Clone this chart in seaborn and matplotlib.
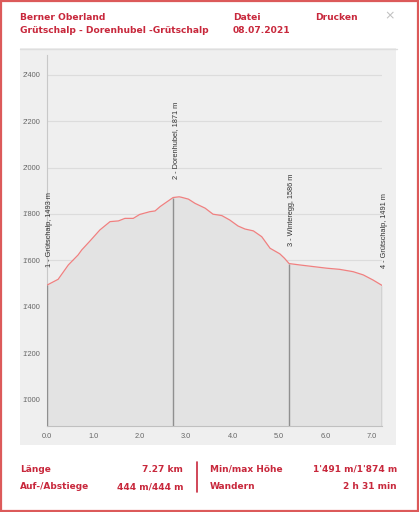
import numpy as np
import pandas as pd
import matplotlib
matplotlib.use("Agg")
import matplotlib.pyplot as plt
import seaborn as sns
from matplotlib.patches import Rectangle
from matplotlib.lines import Line2D

# ---------------- data ----------------
distance_km = [0.00, 0.24, 0.46, 0.67, 0.75, 0.93, 1.14, 1.36, 1.54, 1.68, 1.86,
               2.00, 2.22, 2.33, 2.44, 2.54, 2.72, 2.85, 2.90, 3.05, 3.19,
               3.41, 3.58, 3.77, 3.94, 4.12, 4.27, 4.45, 4.63, 4.81, 5.02,
               5.12, 5.22, 5.45, 5.74, 6.03, 6.31, 6.60, 6.82, 7.03, 7.23]
elevation_m = [1493, 1518, 1580, 1623, 1645, 1684, 1731, 1767, 1770, 1781, 1781,
               1798, 1810, 1813, 1832, 1846, 1871, 1874, 1872, 1864, 1846,
               1825, 1799, 1793, 1774, 1748, 1735, 1727, 1702, 1652, 1628,
               1609, 1586, 1580, 1573, 1566, 1561, 1551, 1537, 1515, 1491]

wp_km = [0.0, 2.72, 5.22, 7.23]
wp_elev = [1493, 1871, 1586, 1491]
wp_names = ["Grütschalp", "Dorenhubel", "Winteregg", "Grütschalp"]

y_ticks = [1000, 1200, 1400, 1600, 1800, 2000, 2200, 2400]
x_ticks = [0, 1, 2, 3, 4, 5, 6, 7]

header_title = "Berner Oberland"
header_route = "Grütschalp - Dorenhubel -Grütschalp"
header_file = "Datei"
header_date = "08.07.2021"
header_print = "Drucken"

footer_left_labels = ["Länge", "Auf-/Abstiege"]
footer_left_values = ["7.27 km", "444 m/444 m"]
footer_right_labels = ["Min/max Höhe", "Wandern"]
footer_right_values = ["1'491 m/1'874 m", "2 h 31 min"]

# ---------------- style ----------------
sns.set_style("white")
plt.rcParams['font.family'] = ['DejaVu Sans']

W, H = 419, 512
fig = plt.figure(figsize=(W / 100, H / 100), dpi=100)
fig.patch.set_facecolor("white")

def fx(x):
    return x / W

def fy(y):
    return 1 - y / H

RED = "#c8283c"
BORDER = "#dc5a5a"

# outer border
fig.add_artist(Rectangle((0.002, 0.002), 0.996, 0.996, transform=fig.transFigure,
                         fill=False, edgecolor=BORDER, linewidth=1.6, zorder=10))

# gray panel
fig.add_artist(Rectangle((fx(20), fy(445)), fx(396) - fx(20), fy(48) - fy(445),
                         transform=fig.transFigure, facecolor="#efefef",
                         edgecolor="none", zorder=0))
fig.add_artist(Line2D([fx(20), fx(397)], [fy(48.5), fy(48.5)], transform=fig.transFigure,
                      color="#dedede", linewidth=1.0, zorder=1))

# header texts
hfont = dict(fontsize=6.6, fontweight="bold", color=RED, family="DejaVu Sans")
fig.text(fx(20), fy(19.5), header_title, va="baseline", ha="left", **hfont)
fig.text(fx(20), fy(33), header_route, va="baseline", ha="left", **hfont)
fig.text(fx(233), fy(19.5), header_file, va="baseline", ha="left", **hfont)
fig.text(fx(233), fy(33), header_date, va="baseline", ha="left", **hfont)
fig.text(fx(315), fy(19.5), header_print, va="baseline", ha="left", **hfont)
fig.text(fx(390), fy(16), "×", va="center", ha="center", fontsize=9, color="#c0c0c0")

# ---------------- chart ----------------
ax = fig.add_axes([fx(47), fy(426), fx(382.3) - fx(47), fy(55) - fy(426)])
ax.set_facecolor("#efefef")
ax.patch.set_alpha(0)

df = pd.DataFrame({"km": distance_km, "m": elevation_m})
ax.fill_between(df["km"], df["m"], 880, color="#e3e3e3", linewidth=0, zorder=2)
sns.lineplot(data=df, x="km", y="m", ax=ax, color="#f08080", linewidth=0.9, zorder=4)

ax.set_xlim(0, 7.23)
ax.set_ylim(885, 2486)

for v in y_ticks:
    ax.axhline(v, color="#dcdcdc", linewidth=0.8, zorder=1)

ax.vlines(wp_km, 885, wp_elev, colors="#909090", linewidth=1.0, zorder=5)
for i, (k, e, n) in enumerate(zip(wp_km, wp_elev, wp_names)):
    ax.annotate(f"{i + 1} - {n}, {e} m", xy=(k, e), xytext=(1.8, 13),
                textcoords="offset points", rotation=90, ha="center", va="bottom",
                fontsize=5.3, color="#333333", family="Liberation Sans",
                annotation_clip=False, zorder=6)

ax.set_yticks(y_ticks)
ax.set_yticklabels([f"{v:,}".replace(",", "'") for v in y_ticks])
ax.set_xticks(x_ticks)
ax.set_xticklabels([f"{v:.1f}" for v in x_ticks])
ax.set_xlabel("")
ax.set_ylabel("")
ax.tick_params(axis="y", length=0, pad=5, labelsize=5.3, labelcolor="#666666")
ax.tick_params(axis="x", length=2.5, width=0.6, color="#c8c8c8", pad=2.5,
               labelsize=5.3, labelcolor="#666666")
for lab in ax.get_xticklabels() + ax.get_yticklabels():
    lab.set_family("Liberation Sans")

for s in ["top", "right"]:
    ax.spines[s].set_visible(False)
ax.spines["left"].set_color("#c8c8c8")
ax.spines["left"].set_linewidth(0.8)
ax.spines["bottom"].set_color("#c0c0c0")
ax.spines["bottom"].set_linewidth(0.8)

# ---------------- footer ----------------
ffont = dict(fontsize=6.5, fontweight="bold", color=RED, family="DejaVu Sans")
rows_y = [fy(471.7), fy(489.4)]
for yy, lab, val in zip(rows_y, footer_left_labels, footer_left_values):
    fig.text(fx(20), yy, lab, ha="left", va="baseline", **ffont)
    fig.text(fx(183), yy, val, ha="right", va="baseline", **ffont)
for yy, lab, val in zip(rows_y, footer_right_labels, footer_right_values):
    fig.text(fx(210), yy, lab, ha="left", va="baseline", **ffont)
    fig.text(fx(397), yy, val, ha="right", va="baseline", **ffont)
fig.add_artist(Line2D([fx(197), fx(197)], [fy(462), fy(492)], transform=fig.transFigure,
                      color=RED, linewidth=1.2))

fig.savefig("out.png", dpi=100)
